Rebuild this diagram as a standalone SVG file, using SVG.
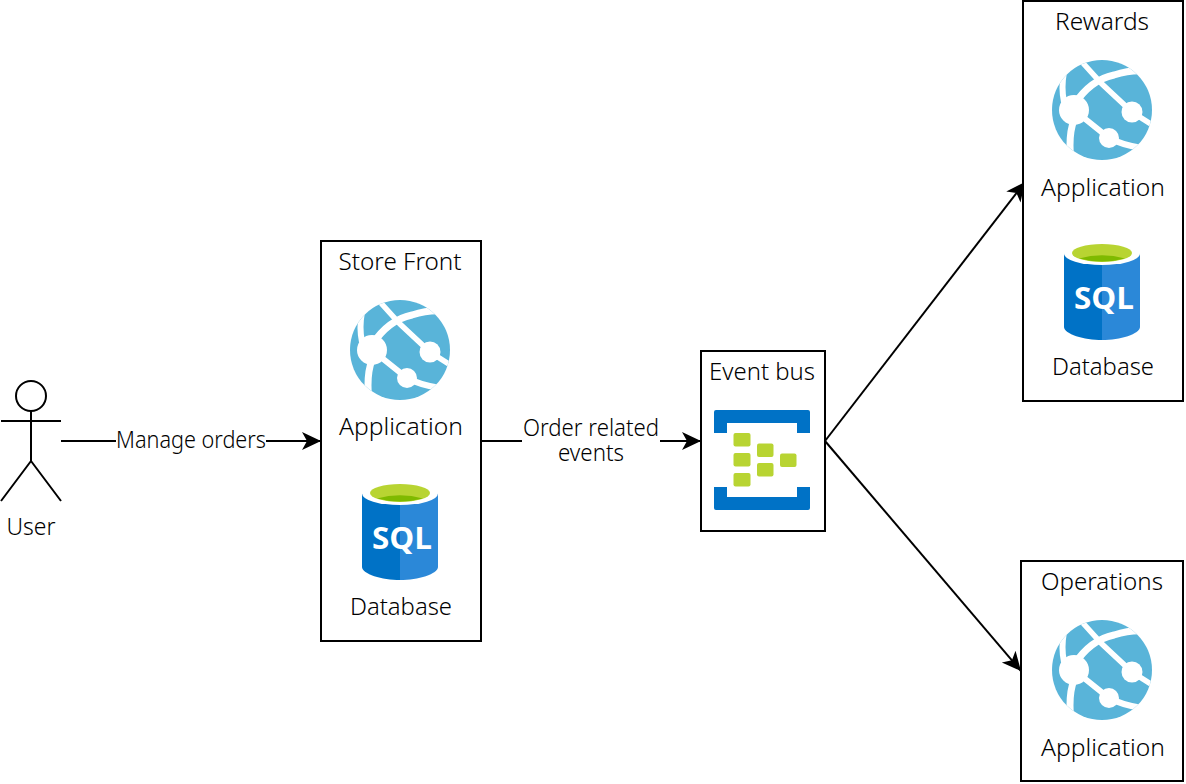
<svg xmlns="http://www.w3.org/2000/svg" width="1186" height="784" viewBox="0 0 1186 784">
<style>
text{font-family:"Noto Sans","Open Sans","Liberation Sans",sans-serif;font-size:23px;font-weight:300;fill:#000;text-anchor:middle}
.box{fill:#fff;stroke:#000;stroke-width:2}
.ln{fill:none;stroke:#000;stroke-width:2}
.lab{fill:#fff;stroke:none}
.sql{font-family:"Open Sans","Noto Sans",sans-serif;font-weight:700;font-size:31px;fill:#fff}
</style>
<defs>
<marker id="arrow" markerUnits="userSpaceOnUse" markerWidth="22" markerHeight="20" refX="19" refY="10" orient="auto">
<path d="M0 1 L19 10 L0 19 L5 10 Z" fill="#000"/>
</marker>
<clipPath id="globeClip"><circle cx="0" cy="0" r="50"/></clipPath>
<g id="globe">
<circle r="50" fill="#59b4d9"/>
<g clip-path="url(#globeClip)" fill="none" stroke="#fff">
<path d="M-38 -38 Q-41 -22 -38 -8" stroke-width="6"/>
<path d="M-28 -5 Q-12 -30 12 -35 Q28 -40 42 -39" stroke-width="7"/>
<path d="M-20 -48 L0 -26 L30 2 L52 16" stroke-width="5.5"/>
<path d="M-28 0 L7 28 Q20 35 40 38" stroke-width="6"/>
<path d="M-28 10 Q-34 25 -31 52" stroke-width="7"/>
<g fill="#fff" stroke="none">
<circle cx="-28" cy="0" r="15"/>
<circle cx="30" cy="2" r="10.5"/>
<circle cx="7" cy="28" r="10"/>
</g>
</g>
</g>
<g id="sqlIcon">
<path d="M-38 -36.500 V37 C-38 44 -18 50 0 50 V-36.500 Z" fill="#0072c6"/>
<path d="M38 -36.500 V37 C38 44 18 50 0 50 V-36.500 Z" fill="#2b88d8"/>
<ellipse cx="0" cy="-36.500" rx="38" ry="11.500" fill="#fff"/>
<ellipse cx="0" cy="-37" rx="30" ry="9" fill="#b8d432"/>
<path d="M-23 -31.500 Q0 -38 23 -31.500 Q0 -25.500 -23 -31.500 Z" fill="#7fba00"/>
<text class="sql" x="2" y="18.500" textLength="60" lengthAdjust="spacingAndGlyphs">SQL</text>
</g>
<g id="hubIcon">
<path d="M0 2 a2 2 0 0 1 2 -2 H94 a2 2 0 0 1 2 2 V23 H83 V13 H13 V23 H0 Z" fill="#0072c6"/>
<path d="M0 98 a2 2 0 0 0 2 2 H94 a2 2 0 0 0 2 -2 V77 H83 V87 H13 V77 H0 Z" fill="#0072c6"/>
<g fill="#b8d432">
<rect x="19.500" y="23" width="17" height="13.500" rx="2"/>
<rect x="19.500" y="43" width="17" height="13.500" rx="2"/>
<rect x="19.500" y="63" width="17" height="13.500" rx="2"/>
<rect x="43" y="33.500" width="16.500" height="13.500" rx="2"/>
<rect x="43" y="53" width="16.500" height="13.500" rx="2"/>
<rect x="66" y="43.500" width="16.500" height="13.500" rx="2"/>
</g>
</g>
</defs>
<rect width="1186" height="784" fill="#fff"/>

<g id="connectors">
<path class="ln" d="M61 441 H321" marker-end="url(#arrow)"/>
<path class="ln" d="M481 441 H701" marker-end="url(#arrow)"/>
<path class="ln" d="M825 441 L1025 182" marker-end="url(#arrow)"/>
<path class="ln" d="M825 441 L1021 671" marker-end="url(#arrow)"/>
</g>

<g id="label-manage">
<rect class="lab" x="116" y="428" width="150" height="26"/>
<text x="191" y="448" textLength="150" lengthAdjust="spacingAndGlyphs">Manage orders</text>
</g>
<g id="label-events">
<rect class="lab" x="522" y="416" width="138" height="50"/>
<text><tspan x="591" y="436" textLength="136" lengthAdjust="spacingAndGlyphs">Order related</tspan><tspan x="591" y="461" textLength="66" lengthAdjust="spacingAndGlyphs">events</tspan></text>
</g>

<g id="user">
<circle class="ln" cx="31" cy="396" r="15"/>
<path class="ln" d="M31 411 V461 M1 421 H61 M31 461 L1 501 M31 461 L61 501"/>
<text x="31" y="535" textLength="49" lengthAdjust="spacingAndGlyphs">User</text>
</g>

<g id="store-front">
<rect class="box" x="321" y="241" width="160" height="400"/>
<text x="400" y="270" textLength="123" lengthAdjust="spacingAndGlyphs">Store Front</text>
<use href="#globe" x="400" y="350"/>
<text x="401" y="435" textLength="124" lengthAdjust="spacingAndGlyphs">Application</text>
<use href="#sqlIcon" x="400" y="530"/>
<text x="401" y="615" textLength="102" lengthAdjust="spacingAndGlyphs">Database</text>
</g>

<g id="event-bus">
<rect class="box" x="701" y="351" width="124" height="180"/>
<text x="762" y="380" textLength="106" lengthAdjust="spacingAndGlyphs">Event bus</text>
<use href="#hubIcon" x="714" y="410"/>
</g>

<g id="rewards">
<rect class="box" x="1023" y="1" width="160" height="400"/>
<text x="1102" y="30" textLength="94" lengthAdjust="spacingAndGlyphs">Rewards</text>
<use href="#globe" x="1102" y="110"/>
<text x="1103" y="196" textLength="124" lengthAdjust="spacingAndGlyphs">Application</text>
<use href="#sqlIcon" x="1102" y="290"/>
<text x="1103" y="375" textLength="102" lengthAdjust="spacingAndGlyphs">Database</text>
</g>

<g id="operations">
<rect class="box" x="1021" y="561" width="162" height="220"/>
<text x="1102" y="590" textLength="122" lengthAdjust="spacingAndGlyphs">Operations</text>
<use href="#globe" x="1102" y="670"/>
<text x="1103" y="756" textLength="124" lengthAdjust="spacingAndGlyphs">Application</text>
</g>
</svg>
